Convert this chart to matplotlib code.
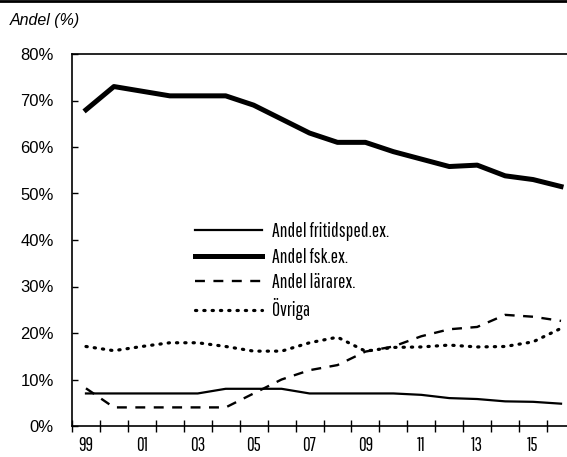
import numpy as np
import matplotlib.pyplot as plt
from matplotlib.lines import Line2D

years = list(range(1999, 2017))
labels = ["99", "01", "03", "05", "07", "09", "11", "13", "15"]

fritidsped = [7, 7, 7, 7, 7, 8, 8, 8, 7, 7, 7, 7, 6.7, 6.0, 5.8, 5.3, 5.2, 4.8]
fsk = [68, 73, 72, 71, 71, 71, 69, 66, 63, 61, 61, 59, 57.4, 55.8, 56.1, 53.8, 53, 51.5]
lararex = [8.1, 4, 4, 4, 4, 4, 7, 10, 12, 13.1, 16, 17.1, 19.3, 20.8, 21.3, 23.9, 23.5, 22.6]
ovriga = [17.1, 16.2, 17.1, 17.9, 17.9, 17.1, 16.1, 16.1, 17.9, 19.1, 16.1, 16.9, 17.0, 17.4, 17.0, 17.1, 18.1, 21.0]

narrow = ["Pathway Gothic One", "DejaVu Sans"]
plain = ["Liberation Sans", "DejaVu Sans"]

fig = plt.figure(figsize=(5.67, 4.57), dpi=100)
ax = fig.add_axes([72 / 567, 31 / 457, 503 / 567, 372 / 457])

x = np.arange(len(years))
ax.plot(x, fritidsped, color="black", lw=1.6, label="Andel fritidsped.ex.")
ax.plot(x, fsk, color="black", lw=3.6, label="Andel fsk.ex.")
ax.plot(x, lararex, color="black", lw=1.7, dashes=(4.2, 3.6), label="Andel lärarex.")
ax.plot(x, ovriga, color="black", lw=2.3, linestyle=(0, (0.4, 2.2)),
        dash_capstyle="round", label="Övriga")

ax.set_xlim(-0.5, 17.5)
ax.set_ylim(0, 80)
ax.set_yticks(range(0, 81, 10))
ax.set_yticklabels([f"{v}%" for v in range(0, 81, 10)], family=plain, fontsize=12)
ax.tick_params(axis="y", direction="in", length=4, width=1, pad=13)

ax.set_xticks(np.arange(0, 18, 2))
ax.set_xticklabels(labels, family=narrow, fontsize=13.5)
ax.set_xticks(np.arange(-0.5, 18, 1), minor=True)
ax.tick_params(axis="x", which="major", length=0, pad=7)
ax.tick_params(axis="x", which="minor", direction="inout", length=8, width=1)

for s in ["left", "bottom", "top"]:
    ax.spines[s].set_linewidth(1.2)
ax.spines["right"].set_visible(False)

ax.legend(loc="upper left", bbox_to_anchor=(0.2445, 0.548), frameon=False,
          borderpad=0, borderaxespad=0,
          handlelength=3.45, handletextpad=0.5, labelspacing=0.33,
          prop={"family": narrow, "size": 14})

fig.text(10 / 567, 1 - 20 / 457, "Andel (%)", fontsize=11.5, style="italic",
         family=plain, va="center", ha="left")
fig.add_artist(Line2D([0, 1], [0.998, 0.998], transform=fig.transFigure,
                      color="black", lw=2))

fig.savefig("out.png", dpi=100)
